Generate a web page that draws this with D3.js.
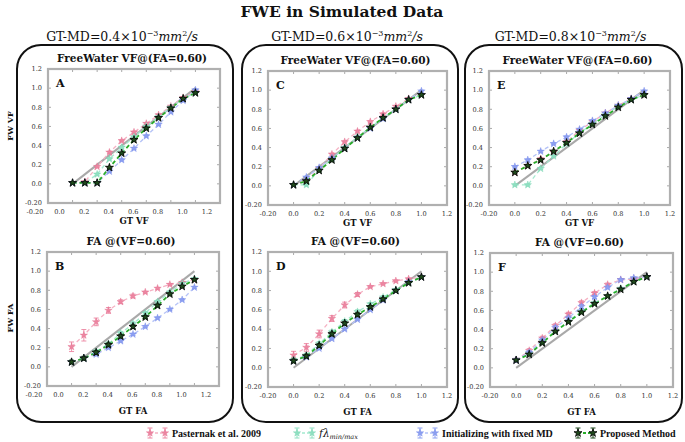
<!DOCTYPE html>
<html><head><meta charset="utf-8">
<script src="https://cdn.jsdelivr.net/npm/d3@7"></script>
<style>body{margin:0;background:#fff}svg{display:block}</style>
</head><body>
<svg id="c" width="685" height="442"></svg>
<script>
// ---------- DATA ----------
const gt = [0.0, 0.1, 0.2, 0.3, 0.4, 0.5, 0.6, 0.7, 0.8, 0.9, 1.0];
const tickValues = [-0.2, 0.0, 0.2, 0.4, 0.6, 0.8, 1.0, 1.2];
const tickLabels = ["-0.20", "0.0", "0.2", "0.4", "0.6", "0.8", "1.0", "1.2"];
const seriesNames = ["Pasternak et al. 2009", "fλmin/max", "Initializing with fixed MD", "Proposed Method"];
const columnMD = ["0.4", "0.6", "0.8"];
const panelLetters = ["A", "B", "C", "D", "E", "F"];
const panelTitles = ["FreeWater VF@(FA=0.60)", "FA @(VF=0.60)"];
const xTitles = ["GT VF", "GT FA"];
const yTitles = ["FW VF", "FW FA"];

// Panel A (VF, MD 0.4)
const aPasternak = [0.01, 0.02, 0.18, 0.33, 0.45, 0.54, 0.63, 0.72, 0.81, 0.90, 0.96];
const aFlambda   = [0.01, 0.01, 0.10, 0.26, 0.38, 0.49, 0.60, 0.70, 0.80, 0.89, 0.95];
const aFixedMD   = [0.01, 0.01, 0.01, 0.13, 0.25, 0.37, 0.50, 0.62, 0.75, 0.87, 0.98];
const aProposed  = [0.01, 0.01, 0.01, 0.17, 0.32, 0.46, 0.58, 0.69, 0.79, 0.89, 0.95];
// Panel B (FA, MD 0.4)
const bPasternak = [0.21, 0.33, 0.47, 0.59, 0.68, 0.74, 0.78, 0.82, 0.86, 0.88, 0.91];
const bFlambda   = [0.05, 0.09, 0.16, 0.24, 0.35, 0.45, 0.56, 0.68, 0.78, 0.87, 0.92];
const bFixedMD   = [0.05, 0.09, 0.13, 0.20, 0.27, 0.34, 0.42, 0.51, 0.60, 0.70, 0.83];
const bProposed  = [0.05, 0.09, 0.15, 0.23, 0.32, 0.42, 0.52, 0.64, 0.76, 0.84, 0.91];
// Panel C (VF, MD 0.6)
const cPasternak = [0.01, 0.05, 0.18, 0.33, 0.46, 0.57, 0.67, 0.75, 0.83, 0.91, 0.95];
const cFlambda   = [0.01, 0.01, 0.17, 0.28, 0.40, 0.51, 0.61, 0.71, 0.80, 0.90, 0.95];
const cFixedMD   = [0.01, 0.09, 0.19, 0.29, 0.39, 0.50, 0.60, 0.70, 0.80, 0.90, 0.99];
const cProposed  = [0.01, 0.05, 0.16, 0.27, 0.39, 0.50, 0.61, 0.71, 0.80, 0.90, 0.95];
// Panel D (FA, MD 0.6)
const dPasternak = [0.13, 0.21, 0.35, 0.51, 0.65, 0.76, 0.84, 0.87, 0.90, 0.92, 0.94];
const dFlambda   = [0.08, 0.13, 0.25, 0.37, 0.48, 0.58, 0.66, 0.73, 0.81, 0.88, 0.94];
const dFixedMD   = [0.07, 0.11, 0.20, 0.30, 0.40, 0.50, 0.60, 0.70, 0.80, 0.89, 0.94];
const dProposed  = [0.07, 0.12, 0.23, 0.35, 0.46, 0.55, 0.63, 0.71, 0.80, 0.88, 0.94];
// Panel E (VF, MD 0.8)
const ePasternak = [0.14, 0.21, 0.28, 0.35, 0.46, 0.58, 0.67, 0.76, 0.84, 0.91, 0.95];
const eFlambda   = [0.01, 0.01, 0.18, 0.31, 0.44, 0.55, 0.65, 0.74, 0.83, 0.90, 0.95];
const eFixedMD   = [0.20, 0.27, 0.36, 0.44, 0.51, 0.59, 0.68, 0.76, 0.84, 0.91, 0.99];
const eProposed  = [0.14, 0.21, 0.27, 0.36, 0.45, 0.55, 0.64, 0.73, 0.82, 0.90, 0.95];
// Panel F (FA, MD 0.8)
const fPasternak = [0.08, 0.18, 0.31, 0.44, 0.56, 0.68, 0.78, 0.87, 0.92, 0.93, 0.95];
const fFlambda   = [0.08, 0.15, 0.27, 0.38, 0.49, 0.59, 0.68, 0.75, 0.83, 0.90, 0.95];
const fFixedMD   = [0.08, 0.16, 0.29, 0.42, 0.52, 0.64, 0.74, 0.84, 0.92, 0.94, 0.95];
const fProposed  = [0.08, 0.14, 0.26, 0.38, 0.48, 0.58, 0.67, 0.75, 0.82, 0.90, 0.95];

// error bar half-widths
const errSmall    = [0.01, 0.01, 0.01, 0.01, 0.01, 0.01, 0.01, 0.01, 0.01, 0.01, 0.01];
const errMedium   = [0.02, 0.02, 0.02, 0.02, 0.02, 0.02, 0.015, 0.015, 0.01, 0.01, 0.01];
const bPastErr    = [0.05, 0.06, 0.04, 0.03, 0.02, 0.02, 0.01, 0.01, 0.01, 0.01, 0.01];
const dPastErr    = [0.04, 0.04, 0.04, 0.03, 0.03, 0.02, 0.01, 0.01, 0.01, 0.01, 0.01];

// ---------- STYLE / LAYOUT ----------
const styles = [
  {line: "#f5b1c3", star: "#ec86a1", stroke: "#e27090", width: 1.3},
  {line: "#a4ead0", star: "#8fe0c2", stroke: "#79d4b1", width: 1.3},
  {line: "#b4c2f7", star: "#8c9ff0", stroke: "#7489ea", width: 1.3},
  {line: "#2aac2a", star: "#1f4a1c", stroke: "#000000", width: 1.8}
];
const panels = [
  {letter: 0, kind: 0, x0: 48, x1: 220, y0: 69, y1: 203, shift: -13, s: [aPasternak, aFlambda, aFixedMD, aProposed], e: [errSmall, errSmall, errSmall, errSmall]},
  {letter: 1, kind: 1, x0: 47, x1: 219, y0: 252, y1: 386, shift: -13, s: [bPasternak, bFlambda, bFixedMD, bProposed], e: [bPastErr, errMedium, errSmall, errMedium]},
  {letter: 2, kind: 0, x0: 268, x1: 447, y0: 71, y1: 205, shift: 0, s: [cPasternak, cFlambda, cFixedMD, cProposed], e: [errSmall, errSmall, errSmall, errSmall]},
  {letter: 3, kind: 1, x0: 268, x1: 447, y0: 252, y1: 387, shift: 0, s: [dPasternak, dFlambda, dFixedMD, dProposed], e: [dPastErr, errMedium, errSmall, errMedium]},
  {letter: 4, kind: 0, x0: 489, x1: 670, y0: 71, y1: 205, shift: 0, s: [ePasternak, eFlambda, eFixedMD, eProposed], e: [errSmall, errSmall, errSmall, errSmall]},
  {letter: 5, kind: 1, x0: 490, x1: 673, y0: 253, y1: 387, shift: 0, s: [fPasternak, fFlambda, fFixedMD, fProposed], e: [errMedium, errSmall, errMedium, errSmall]}
];
const boxes = [{x0: 17, x1: 233}, {x0: 242, x1: 458}, {x0: 465, x1: 682}];
const SERIF = "'DejaVu Serif', serif";
const TIMES = "'Liberation Serif', 'Times New Roman', serif";

const svg = d3.select("#c");
const star = d3.symbol().type(d3.symbolStar).size(17);
const starBig = d3.symbol().type(d3.symbolStar).size(20);

// title
svg.append("text").attr("x", 342).attr("y", 17).attr("text-anchor", "middle")
  .attr("font-family", SERIF).attr("font-weight", "bold").attr("font-size", 15.5)
  .attr("fill", "#111").text("FWE in Simulated Data");

// boxes and column headers
boxes.forEach((b, i) => {
  svg.append("rect").attr("x", b.x0).attr("y", 45).attr("width", b.x1 - b.x0).attr("height", 377)
    .attr("rx", 24).attr("ry", 24).attr("fill", "none").attr("stroke", "#111").attr("stroke-width", 2);
  const t = svg.append("text").attr("x", (b.x0 + b.x1) / 2 - 3).attr("y", 41).attr("text-anchor", "middle")
    .attr("font-family", SERIF).attr("font-size", 12.5).attr("fill", "#111");
  t.append("tspan").text("GT-MD=" + columnMD[i] + "×10");
  t.append("tspan").attr("dy", -5).attr("font-size", 8).text("−3");
  t.append("tspan").attr("dy", 5).attr("font-style", "italic").text("mm");
  t.append("tspan").attr("dy", -5).attr("font-size", 8).text("2");
  t.append("tspan").attr("dy", 5).attr("font-style", "italic").text("/s");
});

// y titles
[[126, 0], [318, 1]].forEach(([cy, k]) => {
  svg.append("text").attr("transform", `translate(13,${cy}) rotate(-90)`).attr("text-anchor", "middle")
    .attr("font-family", SERIF).attr("font-weight", "bold").attr("font-size", 8).attr("fill", "#111")
    .text(yTitles[k]);
});

panels.forEach(p => {
  const x = d3.scaleLinear().domain([-0.2, 1.2]).range([p.x0, p.x1]);
  const y = d3.scaleLinear().domain([-0.2, 1.2]).range([p.y1, p.y0]);
  const g = svg.append("g");
  const cx = (p.x0 + p.x1) / 2;

  g.append("text").attr("x", cx - 2).attr("y", p.y0 - 7).attr("text-anchor", "middle")
    .attr("font-family", SERIF).attr("font-weight", "bold").attr("font-size", 10.5).attr("fill", "#111")
    .text(panelTitles[p.kind]);

  const inner = tickValues.slice(1, -1);
  const tk = g.append("g").attr("stroke", "#aaa").attr("stroke-width", 1);
  inner.forEach(v => {
    tk.append("line").attr("x1", x(v)).attr("x2", x(v)).attr("y1", p.y1).attr("y2", p.y1 - 3);
    tk.append("line").attr("x1", x(v)).attr("x2", x(v)).attr("y1", p.y0).attr("y2", p.y0 + 3);
    tk.append("line").attr("y1", y(v)).attr("y2", y(v)).attr("x1", p.x0).attr("x2", p.x0 + 3);
    tk.append("line").attr("y1", y(v)).attr("y2", y(v)).attr("x1", p.x1).attr("x2", p.x1 - 3);
  });

  const tl = g.append("g").attr("font-family", SERIF).attr("font-size", 6.6).attr("fill", "#333");
  tickValues.forEach((v, i) => {
    tl.append("text").attr("x", x(v) + p.shift).attr("y", p.y1 + 11).attr("text-anchor", "middle").text(tickLabels[i]);
    tl.append("text").attr("x", p.x0 - 6).attr("y", y(v) + 2.3).attr("text-anchor", "end").text(tickLabels[i]);
  });

  g.append("text").attr("x", cx).attr("y", p.y1 + (p.kind === 0 ? 21 : 28)).attr("text-anchor", "middle")
    .attr("font-family", SERIF).attr("font-weight", "bold").attr("font-size", 8.5).attr("fill", "#111")
    .text(xTitles[p.kind]);

  g.append("line").attr("x1", x(0)).attr("y1", y(0)).attr("x2", x(1)).attr("y2", y(1))
    .attr("stroke", "#a9a9a9").attr("stroke-width", 2);

  const line = d3.line().x((d, i) => x(gt[i])).y(d => y(d));
  p.s.forEach((vals, si) => {
    const st = styles[si];
    g.append("path").datum(vals).attr("d", line).attr("fill", "none")
      .attr("stroke", st.line).attr("stroke-width", st.width).attr("stroke-dasharray", "4,3");
  });
  p.s.forEach((vals, si) => {
    const st = styles[si];
    const errs = p.e[si];
    const eb = g.append("g").attr("stroke", st.star).attr("stroke-width", 0.9);
    vals.forEach((v, i) => {
      const px = x(gt[i]);
      eb.append("line").attr("x1", px).attr("x2", px).attr("y1", y(v - errs[i])).attr("y2", y(v + errs[i]));
      eb.append("line").attr("x1", px - 2.5).attr("x2", px + 2.5).attr("y1", y(v - errs[i])).attr("y2", y(v - errs[i]));
      eb.append("line").attr("x1", px - 2.5).attr("x2", px + 2.5).attr("y1", y(v + errs[i])).attr("y2", y(v + errs[i]));
    });
    g.selectAll(null).data(vals).enter().append("path")
      .attr("d", si === 3 ? starBig : star).attr("transform", (d, i) => `translate(${x(gt[i])},${y(d)})`)
      .attr("fill", st.star).attr("stroke", st.stroke).attr("stroke-width", si === 3 ? 0.8 : 0.4);
  });

  g.append("rect").attr("x", p.x0).attr("y", p.y0).attr("width", p.x1 - p.x0).attr("height", p.y1 - p.y0)
    .attr("fill", "none").attr("stroke", "#b0b0b0").attr("stroke-width", 2.2);

  g.append("text").attr("x", p.x0 + 8).attr("y", p.y0 + 18)
    .attr("font-family", SERIF).attr("font-weight", "bold").attr("font-size", 11).attr("fill", "#111")
    .text(panelLetters[p.letter]);
});

// legend
const legendX = [150, 297, 420, 578];
const lg = svg.append("g");
seriesNames.forEach((name, si) => {
  const st = styles[si];
  const lx = legendX[si], ly = 433;
  lg.append("line").attr("x1", lx).attr("x2", lx + 15).attr("y1", ly).attr("y2", ly)
    .attr("stroke", st.line).attr("stroke-width", st.width).attr("stroke-dasharray", "3,2");
  [lx, lx + 15].forEach(px => {
    lg.append("line").attr("x1", px).attr("x2", px).attr("y1", ly - 5).attr("y2", ly + 5).attr("stroke", st.star).attr("stroke-width", 1);
    lg.append("line").attr("x1", px - 2.5).attr("x2", px + 2.5).attr("y1", ly - 5).attr("y2", ly - 5).attr("stroke", st.star).attr("stroke-width", 1);
    lg.append("line").attr("x1", px - 2.5).attr("x2", px + 2.5).attr("y1", ly + 5).attr("y2", ly + 5).attr("stroke", st.star).attr("stroke-width", 1);
    lg.append("path").attr("d", si === 3 ? starBig : star).attr("transform", `translate(${px},${ly})`)
      .attr("fill", st.star).attr("stroke", st.stroke).attr("stroke-width", si === 3 ? 0.8 : 0.4);
  });
  const t = lg.append("text").attr("x", lx + 22).attr("y", ly + 3.5)
    .attr("font-size", 10).attr("fill", "#111");
  if (si === 1) {
    t.attr("font-family", SERIF);
    t.append("tspan").attr("font-style", "italic").attr("font-size", 10.5).text("fλ");
    t.append("tspan").attr("font-style", "italic").attr("font-size", 6.5).attr("dy", 2).text("min/max");
  } else {
    t.attr("font-family", TIMES).attr("font-weight", "bold").text(name);
  }
});
</script>
</body></html>
